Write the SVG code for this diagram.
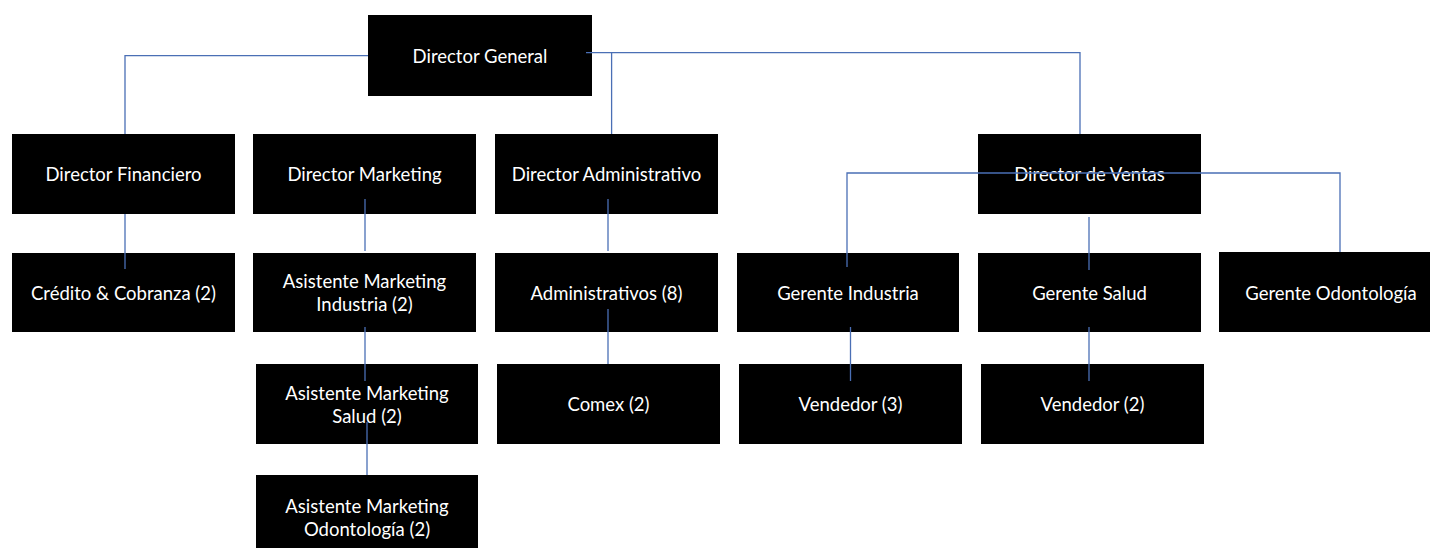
<svg xmlns="http://www.w3.org/2000/svg" width="1430" height="548" viewBox="0 0 1430 548">
<style>
.box{fill:#000;}
.t{fill:#fff;font-family:Lato,"Liberation Sans",sans-serif;font-size:18.5px;text-anchor:middle;dominant-baseline:central;}
.c{fill:none;stroke:#4a6fb5;stroke-width:1.3;}
</style>
<rect width="1430" height="548" fill="#fff"/>
<g id="n-dg"><rect class="box" x="368" y="15" width="224" height="81"/><text class="t" x="480" y="55.5">Director General</text></g>
<g id="n-dfin"><rect class="box" x="12" y="134" width="223" height="80"/><text class="t" x="123.5" y="174">Director Financiero</text></g>
<g id="n-dmkt"><rect class="box" x="253" y="134" width="223" height="80"/><text class="t" x="364.5" y="174">Director Marketing</text></g>
<g id="n-dadm"><rect class="box" x="495" y="134" width="223" height="80"/><text class="t" x="606.5" y="174">Director Administrativo</text></g>
<g id="n-dven"><rect class="box" x="978" y="134" width="223" height="80"/><text class="t" x="1089.5" y="174">Director de Ventas</text></g>
<g id="n-cred"><rect class="box" x="12" y="253" width="223" height="79"/><text class="t" x="123.5" y="292.5">Crédito &amp; Cobranza (2)</text></g>
<g id="n-ami"><rect class="box" x="253" y="253" width="223" height="79"/><text class="t" x="364.5" y="281">Asistente Marketing</text><text class="t" x="364.5" y="304">Industria (2)</text></g>
<g id="n-adms"><rect class="box" x="495" y="253" width="223" height="79"/><text class="t" x="606.5" y="292.5">Administrativos (8)</text></g>
<g id="n-gind"><rect class="box" x="737" y="253" width="222" height="79"/><text class="t" x="848" y="292.5">Gerente Industria</text></g>
<g id="n-gsal"><rect class="box" x="978" y="253" width="223" height="79"/><text class="t" x="1089.5" y="292.5">Gerente Salud</text></g>
<g id="n-godo"><rect class="box" x="1219" y="252" width="224" height="80"/><text class="t" x="1331" y="292.5">Gerente Odontología</text></g>
<g id="n-ams"><rect class="box" x="256" y="364" width="222" height="80"/><text class="t" x="367" y="392.5">Asistente Marketing</text><text class="t" x="367" y="415.5">Salud (2)</text></g>
<g id="n-comex"><rect class="box" x="497" y="364" width="223" height="80"/><text class="t" x="608.5" y="404">Comex (2)</text></g>
<g id="n-v3"><rect class="box" x="739" y="364" width="223" height="80"/><text class="t" x="850.5" y="404">Vendedor (3)</text></g>
<g id="n-v2"><rect class="box" x="981" y="364" width="223" height="80"/><text class="t" x="1092.5" y="404">Vendedor (2)</text></g>
<g id="n-amo"><rect class="box" x="256" y="475" width="222" height="81"/><text class="t" x="367" y="505.5">Asistente Marketing</text><text class="t" x="367" y="528.5">Odontología (2)</text></g>
<g id="connectors">
<path class="c" d="M368 55.7H125V134"/>
<path class="c" d="M125 214V269"/>
<path class="c" d="M586 52.7H1080V134"/>
<path class="c" d="M611.6 52.7V134"/>
<path class="c" d="M365 199V251"/>
<path class="c" d="M365 327V381"/>
<path class="c" d="M367 422V475"/>
<path class="c" d="M608 199V251"/>
<path class="c" d="M608 309V364"/>
<path class="c" d="M847 267V173H1340V252"/>
<path class="c" d="M1089 217V270"/>
<path class="c" d="M850.5 327V381"/>
<path class="c" d="M1089 327V381"/>
</g>
</svg>
